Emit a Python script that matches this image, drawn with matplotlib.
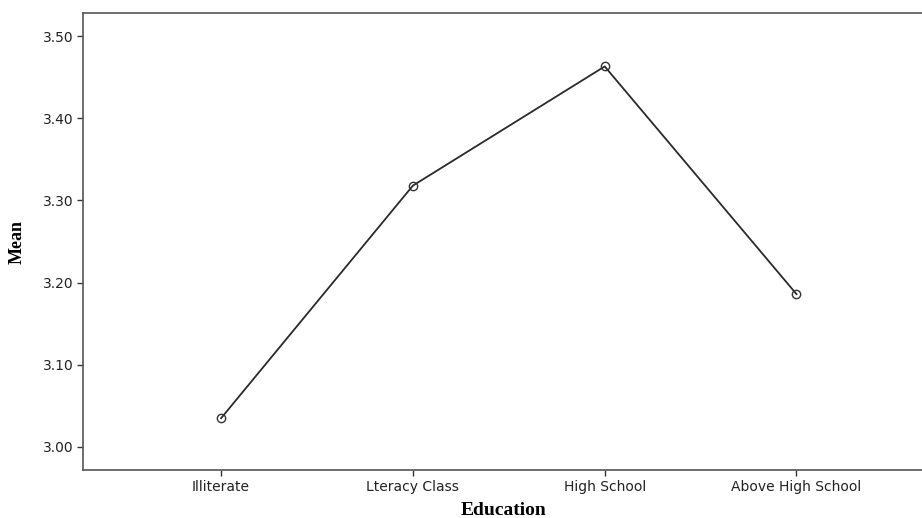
import numpy as np
import matplotlib.pyplot as plt

categorias = ['Illiterate', 'Lteracy Class', 'High School', 'Above High School']
medias = [3.035, 3.318, 3.463, 3.186]
yticks = [3.00, 3.10, 3.20, 3.30, 3.40, 3.50]

fig = plt.figure(figsize=(9.22, 5.18), dpi=100)
ax = fig.add_axes([83/922, 48/518, 842/922, 457/518])

x = np.arange(len(categorias))
ax.plot(x, medias, color='#2a2a2a', lw=1.3, marker='o', markersize=6,
        markerfacecolor='none', markeredgecolor='#333333', markeredgewidth=1.0)

ax.set_xlim(-0.72, 3.67)
ax.set_ylim(2.972, 3.528)
ax.set_xticks(x)
ax.set_xticklabels(categorias, fontsize=10, family='DejaVu Sans', color='#222222')
ax.set_yticks(yticks)
ax.set_yticklabels(['%.2f' % v for v in yticks], fontsize=10, family='DejaVu Sans', color='#222222')
ax.tick_params(length=4, width=1, color='#333333', pad=3)

for s in ax.spines.values():
    s.set_color('#555555')
    s.set_linewidth(1.2)

ax.set_xlabel('Education', fontsize=14, fontweight='bold', family='Liberation Serif', labelpad=6)
ax.set_ylabel('Mean', fontsize=13, fontweight='bold', family='Liberation Serif', labelpad=12)

fig.savefig('out.png', dpi=100)
